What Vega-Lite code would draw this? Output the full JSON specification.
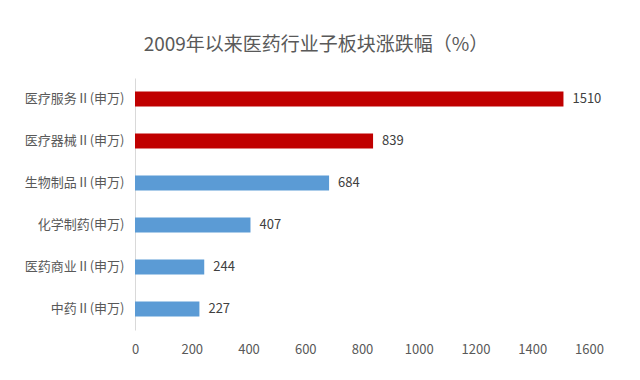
{
  "$schema": "https://vega.github.io/schema/vega-lite/v6.json",
  "autosize": "none",
  "width": 454,
  "height": 252,
  "padding": {"left": 135, "top": 78, "right": 51, "bottom": 50},
  "background": "white",
  "config": {
    "view": {"stroke": null},
    "font": "Noto Sans CJK SC"
  },
  "title": {
    "text": "2009年以来医药行业子板块涨跌幅（%）",
    "fontSize": 19,
    "fontWeight": "normal",
    "color": "#595959",
    "anchor": "middle",
    "dx": -46,
    "offset": 23,
    "font": "Noto Sans CJK SC"
  },
  "data": {
    "values": [
      {"name": "医疗服务Ⅱ(申万)", "value": 1510, "group": "red"},
      {"name": "医疗器械Ⅱ(申万)", "value": 839, "group": "red"},
      {"name": "生物制品Ⅱ(申万)", "value": 684, "group": "blue"},
      {"name": "化学制药(申万)", "value": 407, "group": "blue"},
      {"name": "医药商业Ⅱ(申万)", "value": 244, "group": "blue"},
      {"name": "中药Ⅱ(申万)", "value": 227, "group": "blue"}
    ]
  },
  "encoding": {
    "y": {
      "field": "name",
      "type": "nominal",
      "sort": null,
      "title": null,
      "scale": {"paddingInner": 0.64, "paddingOuter": 0.32},
      "axis": {
        "domainColor": "#D9D9D9",
        "ticks": false,
        "labelPadding": 11,
        "labelFontSize": 13,
        "labelColor": "#595959",
        "labelFont": "Noto Sans CJK SC"
      }
    },
    "x": {
      "field": "value",
      "type": "quantitative",
      "title": null,
      "scale": {"domain": [0, 1600], "nice": false},
      "axis": {
        "values": [0, 200, 400, 600, 800, 1000, 1200, 1400, 1600],
        "format": "d",
        "labelFlush": false,
        "domain": false,
        "ticks": false,
        "grid": false,
        "labelPadding": 13,
        "labelFontSize": 13,
        "labelColor": "#595959",
        "labelFont": "Noto Sans CJK SC"
      }
    }
  },
  "layer": [
    {
      "mark": {"type": "bar"},
      "encoding": {
        "color": {
          "field": "group",
          "type": "nominal",
          "scale": {"domain": ["red", "blue"], "range": ["#C00000", "#5B9BD5"]},
          "legend": null
        }
      }
    },
    {
      "mark": {"type": "text", "align": "left", "dx": 9, "fontSize": 13, "color": "#404040", "font": "Noto Sans CJK SC"},
      "encoding": {
        "text": {"field": "value", "type": "quantitative", "format": "d"}
      }
    }
  ]
}
